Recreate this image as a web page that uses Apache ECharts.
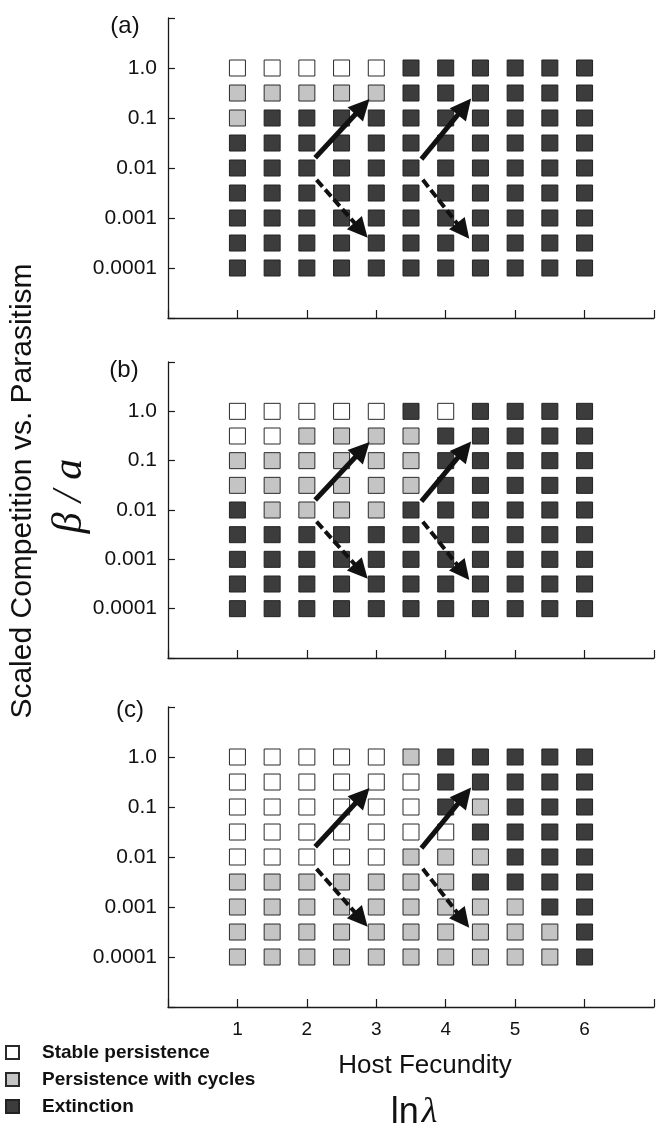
<!DOCTYPE html>
<html>
<head>
<meta charset="utf-8">
<script src="https://cdn.jsdelivr.net/npm/echarts@6/dist/echarts.min.js"></script>
<style>html,body{margin:0;padding:0;background:#fff;}#c{width:664px;height:1132px;}</style>
</head>
<body>
<div id="c"></div>
<script>
// ---- data ----
var xValues = [1, 1.5, 2, 2.5, 3, 3.5, 4, 4.5, 5, 5.5, 6];           // ln lambda
var yValues = [1, 0.316, 0.1, 0.0316, 0.01, 0.00316, 0.001, 0.000316, 0.0001]; // beta / a
// W = Stable persistence, C = Persistence with cycles, E = Extinction (rows top->bottom)
var panelA = [
  "WWWWWEEEEEE",
  "CCCCCEEEEEE",
  "CEEEEEEEEEE",
  "EEEEEEEEEEE",
  "EEEEEEEEEEE",
  "EEEEEEEEEEE",
  "EEEEEEEEEEE",
  "EEEEEEEEEEE",
  "EEEEEEEEEEE"
];
var panelB = [
  "WWWWWEWEEEE",
  "WWCCCCEEEEE",
  "CCCCCCEEEEE",
  "CCCCCCEEEEE",
  "ECCCCEEEEEE",
  "EEEEEEEEEEE",
  "EEEEEEEEEEE",
  "EEEEEEEEEEE",
  "EEEEEEEEEEE"
];
var panelC = [
  "WWWWWCEEEEE",
  "WWWWWWEEEEE",
  "WWWWWWECEEE",
  "WWWWWWWEEEE",
  "WWWWWCCCEEE",
  "CCCCCCCEEEE",
  "CCCCCCCCCEE",
  "CCCCCCCCCCE",
  "CCCCCCCCCCE"
];
var panelLabels = ["(a)", "(b)", "(c)"];
var xTickLabels = ["1", "2", "3", "4", "5", "6"];
var yTickLabels = {"0": "1.0", "-1": "0.1", "-2": "0.01", "-3": "0.001", "-4": "0.0001"};
var stateNames = {W: "Stable persistence", C: "Persistence with cycles", E: "Extinction"};
// arrows [start, arrowhead centre] in data coordinates
var solidArrows = [[[2.12, 0.016], [2.80, 0.168]], [[3.65, 0.015], [4.27, 0.168]]];
var dashedArrows = [[[2.14, 0.0058], [2.78, 0.00057]], [[3.67, 0.0058], [4.25, 0.00055]]];

// ---- build ----
var panels = [panelA, panelB, panelC];
var grids = [
  {left: 168, right: 10, top: 18, height: 300},
  {left: 168, right: 10, top: 362, height: 296},
  {left: 168, right: 10, top: 707, height: 300}
];
var stateStyle = {
  W: {color: "#ffffff", borderColor: "#2a2a2a", borderWidth: 1, opacity: 1},
  C: {color: "#c4c4c4", borderColor: "#2a2a2a", borderWidth: 1, opacity: 1},
  E: {color: "#3c3c3c", borderColor: "#222222", borderWidth: 1, opacity: 1}
};
var axisColor = "#1a1a1a";
var xAxes = [], yAxes = [], series = [];
panels.forEach(function (p, k) {
  xAxes.push({
    gridIndex: k, type: "value", min: 0, max: 7, interval: 1,
    axisLine: {show: true, lineStyle: {color: axisColor, width: 1.3}},
    axisTick: {show: true, inside: true, length: 8, lineStyle: {color: axisColor, width: 1.2}},
    splitLine: {show: false},
    axisLabel: {
      show: k === 2, fontSize: 19, color: "#111", margin: 13, fontFamily: "Liberation Sans",
      formatter: function (v) { var i = Math.round(v); return (i >= 1 && i <= 6) ? xTickLabels[i - 1] : ""; }
    }
  });
  yAxes.push({
    gridIndex: k, type: "log", logBase: 10, min: 0.00001, max: 10, interval: 1,
    axisLine: {show: true, lineStyle: {color: axisColor, width: 1.3}},
    axisTick: {show: true, inside: true, length: 7, lineStyle: {color: axisColor, width: 1.2}},
    splitLine: {show: false},
    axisLabel: {
      fontSize: 21, color: "#111", margin: 11, fontFamily: "Liberation Sans",
      formatter: function (v) { var e = Math.round(Math.log10(v)); return yTickLabels[String(e)] || ""; }
    }
  });
  ["W", "C", "E"].forEach(function (s) {
    var data = [];
    p.forEach(function (row, i) {
      for (var j = 0; j < row.length; j++) if (row[j] === s) data.push([xValues[j], yValues[i]]);
    });
    series.push({
      type: "scatter", name: stateNames[s], xAxisIndex: k, yAxisIndex: k,
      symbol: "rect", symbolSize: 16, data: data, itemStyle: stateStyle[s], z: 2,
      emphasis: {disabled: true}, animation: false
    });
  });
  series.push({
    type: "lines", coordinateSystem: "cartesian2d", xAxisIndex: k, yAxisIndex: k,
    data: solidArrows.map(function (a) { return {coords: a}; }),
    symbol: ["none", "triangle"], symbolSize: [18, 21],
    lineStyle: {color: "#111", width: 5, type: "solid", opacity: 1}, z: 5, animation: false, silent: true
  });
  series.push({
    type: "lines", coordinateSystem: "cartesian2d", xAxisIndex: k, yAxisIndex: k,
    data: dashedArrows.map(function (a) { return {coords: a}; }),
    symbol: ["none", "triangle"], symbolSize: [17, 20],
    lineStyle: {color: "#111", width: 4, type: [9, 4], opacity: 1}, z: 5, animation: false, silent: true
  });
});

var labelPos = [[125, 26], [124, 370], [130, 710]];
var graphics = panelLabels.map(function (t, k) {
  return {type: "text", x: labelPos[k][0], y: labelPos[k][1],
    style: {text: t, fontSize: 24, fontFamily: "Liberation Sans", fill: "#111", textAlign: "center", textVerticalAlign: "middle"}};
});
graphics.push({type: "text", x: 23, y: 491, rotation: Math.PI / 2,
  style: {text: "Scaled Competition vs. Parasitism", fontSize: 30, fontFamily: "Liberation Sans", fill: "#111", textAlign: "center", textVerticalAlign: "middle"}});
graphics.push({type: "text", x: 70, y: 496, rotation: Math.PI / 2,
  style: {text: "\u03B2 / a", fontSize: 42, fontStyle: "italic", fontFamily: "Liberation Serif", fill: "#111", textAlign: "center", textVerticalAlign: "middle"}});
graphics.push({type: "text", x: 425, y: 1066,
  style: {text: "Host Fecundity", fontSize: 26, fontFamily: "Liberation Sans", fill: "#111", textAlign: "center", textVerticalAlign: "middle"}});
graphics.push({type: "text", x: 414, y: 1113,
  style: {text: "{a|ln}{b|\u03BB}", textAlign: "center", textVerticalAlign: "middle",
    rich: {a: {fontSize: 36, fontFamily: "Liberation Sans", fill: "#111"},
           b: {fontSize: 36, fontFamily: "Liberation Serif", fontStyle: "italic", fill: "#111", padding: [0, 0, 0, 3]}}}});

var chart = echarts.init(document.getElementById("c"), null, {renderer: "canvas"});
chart.setOption({
  animation: false,
  backgroundColor: "#fff",
  grid: grids,
  xAxis: xAxes,
  yAxis: yAxes,
  series: series,
  legend: {
    data: [stateNames.W, stateNames.C, stateNames.E],
    orient: "vertical", left: 5, top: 1043, padding: 0, icon: "rect",
    itemWidth: 13, itemHeight: 13, itemGap: 8, selectedMode: false,
    textStyle: {fontSize: 19, fontWeight: "bold", fontFamily: "Liberation Sans", color: "#111", padding: [0, 0, 0, 18]}
  },
  graphic: graphics
});
</script>
</body>
</html>
